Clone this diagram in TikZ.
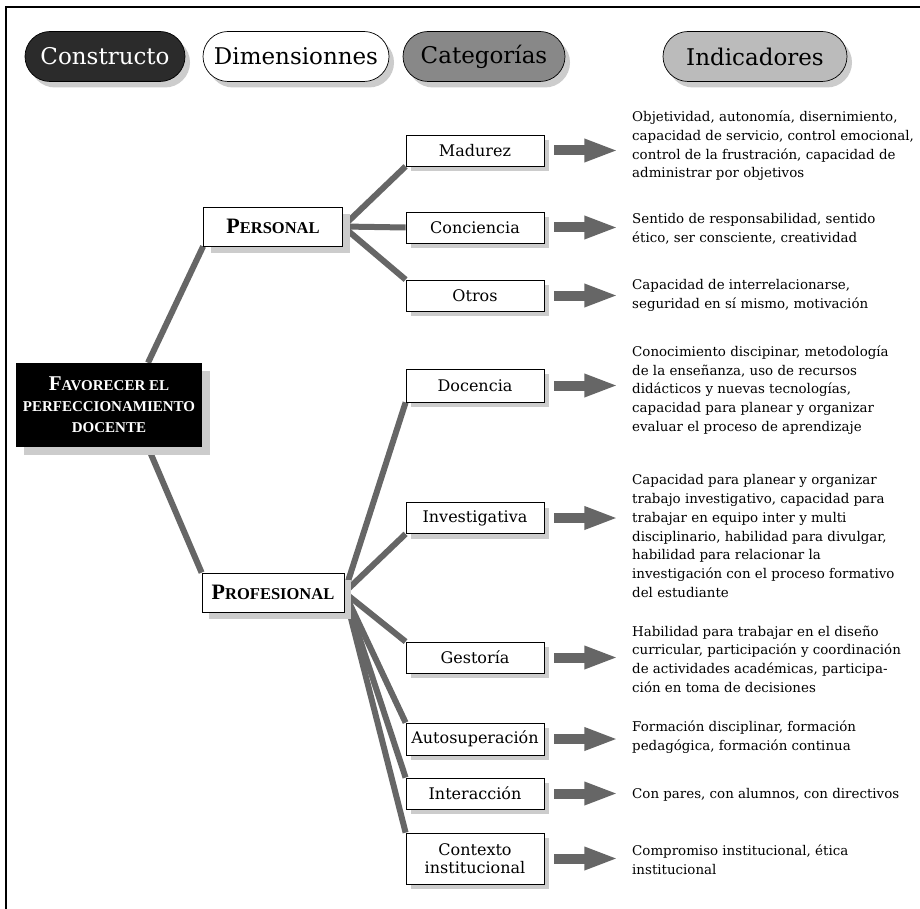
\documentclass[tikz,border=0pt]{standalone}
\usepackage{fontspec}
\setmainfont{DejaVu Serif}
\newfontfamily\capsfont{Liberation Serif}
\usetikzlibrary{shadows,backgrounds,arrows.meta}
\pgfdeclarelayer{canvas}
\pgfsetlayers{canvas,background,main}
\definecolor{linegray}{HTML}{666666}
\definecolor{shadowgray}{HTML}{CCCCCC}
\definecolor{pilldark}{HTML}{2B2B2B}
\definecolor{pillmid}{HTML}{888888}
\definecolor{pilllight}{HTML}{BBBBBB}
\newcommand{\mysc}[2]{{\capsfont\bfseries{\fontsize{22}{22}\selectfont #1}{\fontsize{16.5}{16.5}\selectfont #2}}}
\begin{document}
\begin{tikzpicture}[x=1pt,y=-1pt,
  pill/.style={draw=black, line width=0.7pt, rounded corners=25pt, minimum height=50pt, inner sep=0pt,
     font=\fontsize{23}{23}\selectfont, drop shadow={shadow xshift=5pt, shadow yshift=-6pt, fill=shadowgray, opacity=1}},
  catbox/.style={draw=black, line width=0.8pt, fill=white, minimum width=138pt, inner sep=0pt,
     font=\fontsize{16}{18}\selectfont, align=center,
     drop shadow={shadow xshift=5pt, shadow yshift=-5pt, fill=shadowgray, opacity=1}},
  dimbox/.style={draw=black, line width=0.8pt, fill=white, minimum height=39pt, inner sep=0pt,
     drop shadow={shadow xshift=7pt, shadow yshift=-7pt, fill=shadowgray, opacity=1}},
  conn/.style={line width=6pt, draw=linegray},
  indarrow/.style={line width=10pt, draw=linegray, -{Triangle[length=34pt,width=21pt]}},
  indtext/.style={anchor=west, align=left, inner sep=0pt, font=\fontsize{13.4}{18.7}\selectfont}
]
\begin{pgfonlayer}{canvas}
\fill[white] (0,0) rectangle (920,909);
\end{pgfonlayer}
\useasboundingbox (0,0) rectangle (920,909);
% frame
\coordinate (ftl) at (5.5,7);
\coordinate (ftr) at (920,7);
\coordinate (fbl) at (5.5,909);
\draw[line width=2pt] (ftr) -- (ftl) -- (fbl);

% header pills
\node[pill, fill=pilldark, text=white, minimum width=160pt] (h1) at (105,56.5) {Constructo};
\node[pill, fill=white, minimum width=186pt] (h2) at (296,56.5) {Dimensionnes};
\node[pill, fill=pillmid, minimum width=162pt] (h3) at (484,56.5) {Categorías};
\node[pill, fill=pilllight, minimum width=184pt] (h4) at (755,56.5) {Indicadores};

% construct
\node[fill=black, text=white, minimum width=186pt, minimum height=84pt, inner sep=0pt, align=center,
  font=\capsfont\bfseries\fontsize{15}{21}\selectfont,
  drop shadow={shadow xshift=8pt, shadow yshift=-8pt, fill=shadowgray, opacity=1}] (c) at (109,405)
  {{\fontsize{21}{21}\selectfont F}AVORECER EL\\PERFECCIONAMIENTO\\DOCENTE};

% dimensions
\node[dimbox, minimum width=139pt] (per) at (273,226.5) {\mysc{P}{ERSONAL}};
\node[dimbox, minimum width=142pt] (pro) at (273,592.5) {\mysc{P}{ROFESIONAL}};

% categories
\node[catbox, minimum height=31pt] (k1) at (475,150.5) {Madurez};
\node[catbox, minimum height=31pt] (k2) at (475,227.5) {Conciencia};
\node[catbox, minimum height=31pt] (k3) at (475,295.5) {Otros};
\node[catbox, minimum height=33pt] (k4) at (475,385.5) {Docencia};
\node[catbox, minimum height=31pt] (k5) at (475,518) {Investigativa};
\node[catbox, minimum height=31pt] (k6) at (475,657.5) {Gestoría};
\node[catbox, minimum height=32pt] (k7) at (475,739) {Autosuperación};
\node[catbox, minimum height=31pt] (k8) at (475,793.5) {Interacción};
\node[catbox, minimum height=51pt] (k9) at (475,858.5) {Contexto\\institucional};

% indicators
\node[indtext] (i1) at (632,146) {Objetividad, autonomía, disernimiento,\\capacidad de servicio, control emocional,\\control de la frustración, capacidad de\\administrar por objetivos};
\node[indtext] (i2) at (632,228.5) {Sentido de responsabilidad, sentido\\ético, ser consciente, creatividad};
\node[indtext] (i3) at (632,295.5) {Capacidad de interrelacionarse,\\seguridad en sí mismo, motivación};
\node[indtext] (i4) at (632,390) {Conocimiento discipinar, metodología\\de la enseñanza, uso de recursos\\didácticos y nuevas tecnologías,\\capacidad para planear y organizar\\evaluar el proceso de aprendizaje};
\node[indtext] (i5) at (632,536) {Capacidad para planear y organizar\\trabajo investigativo, capacidad para\\trabajar en equipo inter y multi\\disciplinario, habilidad para divulgar,\\habilidad para relacionar la\\investigación con el proceso formativo\\del estudiante};
\node[indtext] (i6) at (632,659) {Habilidad para trabajar en el diseño\\curricular, participación y coordinación\\de actividades académicas, participa-\\ción en toma de decisiones};
\node[indtext] (i7) at (632,737) {Formación disciplinar, formación\\pedagógica, formación continua};
\node[indtext] (i8) at (632,795) {Con pares, con alumnos, con directivos};
\node[indtext] (i9) at (632,860) {Compromiso institucional, ética\\institucional};

% connectors
\begin{pgfonlayer}{background}
\draw[conn] ([xshift=39pt]c.north) -- (per.south west);
\draw[conn] ([xshift=39pt]c.south) -- (pro.north west);
\draw[conn] (per.east) -- (k1.south west);
\draw[conn] (per.east) -- (k2.west);
\draw[conn] (per.east) -- (k3.north west);
\draw[conn] (pro.east) -- (k4.south west);
\draw[conn] (pro.east) -- (k5.south west);
\draw[conn] (pro.east) -- (k6.north west);
\draw[conn] (pro.east) -- (k7.north west);
\draw[conn] (pro.east) -- (k8.north west);
\draw[conn] (pro.east) -- (k9.north west);
\end{pgfonlayer}

\foreach \k in {k1,k2,k3,k4,k5,k6,k7,k8,k9}{
  \draw[indarrow] ([xshift=10pt]\k.east) -- ([xshift=74pt]\k.east);
}
\end{tikzpicture}
\end{document}
